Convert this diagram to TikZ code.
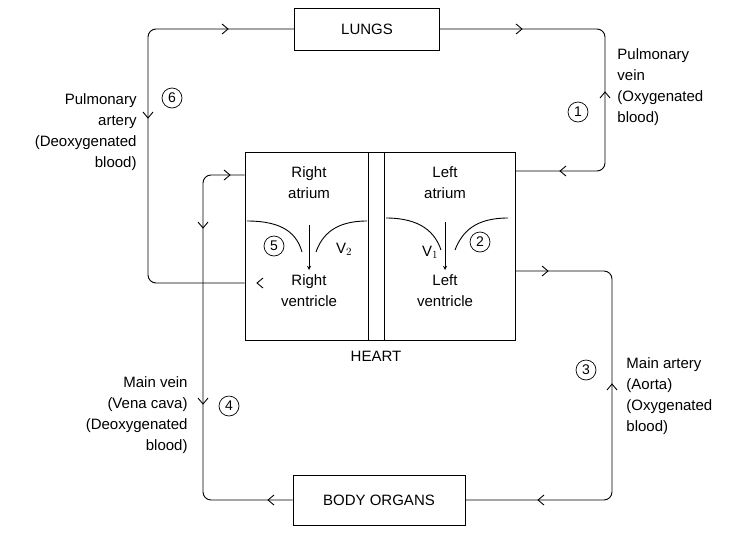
\documentclass[tikz,border=0pt]{standalone}
\usepackage{fontspec}
\setmainfont{Liberation Sans}
\begin{document}
\begin{tikzpicture}[x=1pt,y=-1pt,line width=0.9pt,
  box/.style={draw,rectangle,inner sep=0pt,font=\fontsize{15}{18}\selectfont},
  lbl/.style={font=\fontsize{15}{21}\selectfont,inner sep=0pt},
  num/.style={draw,circle,inner sep=0pt,minimum size=20pt,line width=0.7pt,font=\fontsize{14}{16}\selectfont},
  ar/.pic={\draw[line width=0.9pt] (-6,-5)--(0,0)--(-6,5);},
  line/.style={rounded corners=8pt}]
\useasboundingbox (0,0) rectangle (747,544);
% boxes
\node[box,minimum width=145pt,minimum height=42pt] (lungs) at (367,29) {LUNGS};
\node[box,minimum width=172pt,minimum height=50pt] (body) at (379,500) {BODY ORGANS};
\node[box,minimum width=270pt,minimum height=188pt] (heart) at (380,246) {};
\node[draw,rectangle,minimum width=16pt,minimum height=188pt,inner sep=0pt] (sept) at (376,246) {};
\node[lbl] (hl) at (376,356) {HEART};
% chamber labels
\node[lbl,align=center] (ra) at (309,183) {Right\\atrium};
\node[lbl,align=center] (rv) at (309,291) {Right\\ventricle};
\node[lbl,align=center] (la) at (445,183) {Left\\atrium};
\node[lbl,align=center] (lv) at (445,291) {Left\\ventricle};
% valves
\draw (247,221) .. controls (285,221) and (297,235) .. (302,252);
\draw (316,252) .. controls (322,235) and (335,221) .. (367,221);
\draw[->,>=stealth] (309,225) -- (309,270);
\draw (386,218) .. controls (420,218) and (435,232) .. (441,250);
\draw (455,250) .. controls (462,232) and (475,218) .. (508,218);
\draw[->,>=stealth] (445,222) -- (445,270);
\node[num] (n5) at (274,246) {5};
\node[lbl] (v2) at (344,249) {V$_2$};
\node[lbl] (v1) at (430,252) {V$_1$};
\node[num] (n2) at (480,242) {2};
% connectors
\coordinate (c1) at (605,29);
\coordinate (c2) at (605,171);
\draw[line] (lungs.east) -- (c1) -- (c2) -- (heart.east |- c2);
\coordinate (c3) at (148,283);
\coordinate (c4) at (148,29);
\draw[line] (heart.west |- c3) -- (c3) -- (c4) -- (lungs.west);
\coordinate (c5) at (612,271);
\coordinate (c6) at (612,500);
\draw[line] (heart.east |- c5) -- (c5) -- (c6) -- (body.east);
\coordinate (c7) at (203,500);
\coordinate (c8) at (203,175);
\draw[line] (body.west) -- (c7) -- (c8) -- (heart.west |- c8);
% arrow marks
\pic at (522,29) {ar};
\pic[rotate=90] at (605,92) {ar};
\pic[rotate=180] at (560,171) {ar};
\pic[rotate=180] at (257,283) {ar};
\pic[rotate=-90] at (148,118) {ar};
\pic at (228,29) {ar};
\pic at (548,271) {ar};
\pic[rotate=90] at (612,384) {ar};
\pic[rotate=180] at (538,500) {ar};
\pic[rotate=180] at (268,500) {ar};
\pic[rotate=-90] at (203,404) {ar};
\pic[rotate=-90] at (203,228) {ar};
\pic at (230,175) {ar};
% side labels
\node[num] (n1) at (578,112) {1};
\node[lbl,align=left,anchor=north west] (t1) at (617,48) {Pulmonary\\vein\\(Oxygenated\\blood)};
\node[num] (n6) at (172,98) {6};
\node[lbl,align=right,anchor=north east] (t6) at (137,93) {Pulmonary\\artery\\(Deoxygenated\\blood)};
\node[num] (n3) at (586,370) {3};
\node[lbl,align=left,anchor=north west] (t3) at (626,357) {Main artery\\(Aorta)\\(Oxygenated\\blood)};
\node[num] (n4) at (229,406) {4};
\node[lbl,align=right,anchor=north east] (t4) at (188,376) {Main vein\\(Vena cava)\\(Deoxygenated\\blood)};
\end{tikzpicture}
\end{document}
